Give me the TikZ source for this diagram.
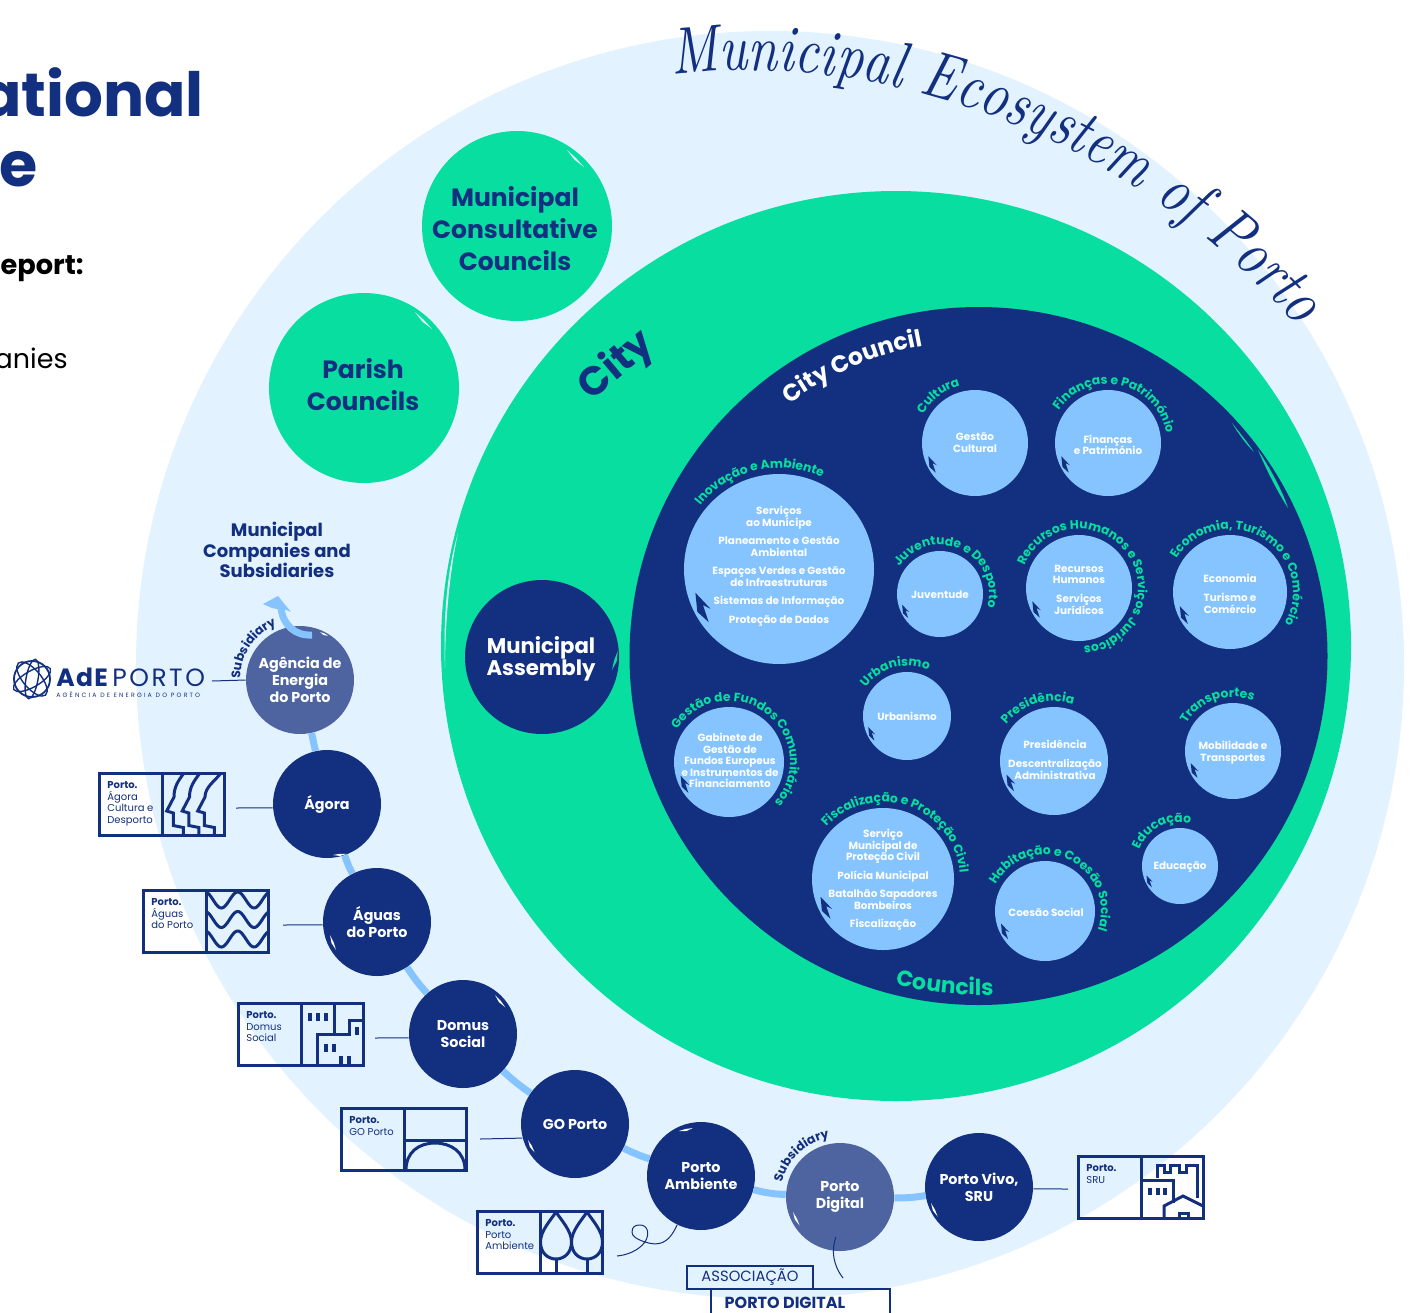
\documentclass[tikz,border=0pt]{standalone}
\usepackage{fontspec}
\setmainfont{Poppins}
\newfontfamily\scrf{lmroman10-italic.otf}[FakeStretch=0.8]
\usetikzlibrary{decorations.text,backgrounds,calc}
\definecolor{navy}{RGB}{18,48,127}
\definecolor{grn}{RGB}{7,222,160}
\definecolor{pale}{RGB}{227,242,255}
\definecolor{sky}{RGB}{133,196,255}
\definecolor{mid}{RGB}{77,100,160}
\pgfdeclarelayer{back}\pgfdeclarelayer{conn}\pgfsetlayers{back,conn,main}
\def\labfont{\color{grn}\bfseries\fontsize{6.15}{6.15}\selectfont}
\def\subfont{\color{navy}\bfseries\fontsize{6.2}{6.2}\selectfont}
\def\citycfont{\color{white}\bfseries\fontsize{11.8}{11.8}\selectfont}
\def\councfont{\color{grn}\bfseries\fontsize{11}{11}\selectfont}
\def\titlefont{\color{navy}\scrf\fontsize{33}{33}\selectfont}
\newcommand{\ArcText}[6][\labfont]{%
  \pgfmathsetmacro\aA{#5-170}\pgfmathsetmacro\aB{#5+170}%
  \path[decorate,decoration={text along path,text align=center,text={|#1|#6}}]
    plot[domain=\aA:\aB,samples=90] ({#2+#4*cos(\x)},{#3+#4*sin(\x)});}
\newcommand{\ArcSpan}[7][\labfont]{%
  \path[decorate,decoration={text along path,text align=center,text={|#1|#7}}]
    plot[domain=#5:#6,samples=60] ({#2+#4*cos(\x)},{#3+#4*sin(\x)});}
\newcommand{\Nick}[6][white]{% colour, x, y, angle, length, width
  \fill[#1,shift={(#2,#3)},rotate=#4] (0,0)--(#5*.5,#6)--(#5,0)--(#5*.5,-#6*.4)--cycle;}
\newcommand{\LC}[7]{% name cx cy r tx ty text
  \node[lcirc,minimum size=#4pt] (#1) at (#2,#3) {};
  \fill[navy] ($(#2,#3)+(-.88*#4,.25*#4)$) -- ($(#2,#3)+(-.72*#4,.42*#4)$) -- ($(#2,#3)+(-.80*#4,.38*#4)$) -- ($(#2,#3)+(-.74*#4,.56*#4)$) -- ($(#2,#3)+(-.86*#4,.45*#4)$) -- cycle;
  \node[ltext] (#1t) at (#5,#6) {#7};}
\newcommand{\CC}[6][navy]{% colour name cx cy text
  \node[ccirc,fill=#1,minimum size=54pt] (#2) at (#3,#4) {#5};}
\newcommand{\LogoBox}[4]{% name x y text
  \node[logobox,anchor=north west] (#1) at (#2,#3) {};
  \draw[logoline] ($(#2,#3)+(63,0)$) -- ($(#2,#3)+(63,62)$);
  \node[logotext] (#1t) at ($(#2,#3)+(8,8.5)$) {{\bfseries Porto.}\\#4};}
\tikzset{
  x=0.5pt,y=-0.5pt,
  lcirc/.style={circle,fill=sky,inner sep=0pt},
  ltext/.style={text=white,font=\bfseries\fontsize{5.2}{5.75}\selectfont,align=center,inner sep=0pt,yshift=-.4pt},
  ccirc/.style={circle,inner sep=0pt,text=white,align=center,font=\bfseries\fontsize{7.15}{8.5}\selectfont},
  gcirc/.style={circle,fill=grn,inner sep=0pt,minimum size=95pt},
  gtext/.style={text=navy,align=center,inner sep=0pt,font=\bfseries\fontsize{12.5}{16}\selectfont},
  conn/.style={sky,line width=3.5pt},
  thinl/.style={navy,line width=0.5pt},
  logobox/.style={draw=navy,line width=1.5pt,minimum width=62.5pt,minimum height=31pt,inner sep=0pt,outer sep=0pt},
  logoline/.style={navy,line width=1.5pt,line join=miter},
  logotext/.style={anchor=north west,text=navy,align=left,inner sep=0pt,font=\fontsize{5}{5.75}\selectfont},
}
\begin{document}
\begin{tikzpicture}
\useasboundingbox (0,0) rectangle (1413,1312);
\clip (0,0) rectangle (1413,1312);
\begin{pgfonlayer}{back}
  \fill[white] (0,0) rectangle (1413,1312);
  \fill[pale] (770,665) circle[radius=634];
  \fill[grn] (896,646) circle[radius=455];
  \fill[navy] (978.5,656) circle[radius=349];
\end{pgfonlayer}
% green slivers and brush marks
\fill[grn] (1232,423) .. controls (1240,433) and (1248,443) .. (1254,452) .. controls (1245,443) and (1238,433) .. (1232,423) -- cycle;
\fill[grn] (1258,450) .. controls (1270,468) and (1282,490) .. (1288,508) .. controls (1277,491) and (1266,469) .. (1258,450) -- cycle;
\fill[pale] (458,533) .. controls (450,570) and (445,620) .. (445,668) .. controls (443,620) and (447,570) .. (458,533) -- cycle;

% left page text
\node[anchor=base east,inner sep=0pt,text=navy,font=\bfseries\fontsize{30.5}{31}\selectfont] (t1) at (204,116) {ational};
\node[anchor=base east,inner sep=0pt,text=navy,font=\bfseries\fontsize{31}{31}\selectfont] (t2) at (38,186) {re};
\node[anchor=base east,inner sep=0pt,text=black,font=\bfseries\fontsize{13.6}{13}\selectfont] (t3) at (84,274) {Report:};
\node[anchor=base east,inner sep=0pt,text=black,font=\fontsize{13.5}{13.5}\selectfont] (t4) at (68,368) {panies};

% title
\path[decorate,decoration={text along path,text align=center,text={|\titlefont|Municipal Ecosystem of Porto}}]
  (683,74) .. controls (880,52) and (1120,130) .. (1290,318);

% outer green circles
\node[gcirc] (parish) at (364,388) {};
\node[gtext] (parisht) at (363,385) {Parish\\Councils};
\node[gcirc] (consult) at (517,226) {};
\node[gtext] (consultt) at (515,229) {Municipal\\Consultative\\Councils};
\Nick[pale]{415}{312}{-45}{24}{1.6}
\Nick[pale]{567}{150}{-45}{24}{1.6}

% city labels
\node[text=navy,rotate=40,font=\bfseries\fontsize{20}{20}\selectfont,inner sep=0pt] (city) at (617,366) {City};
\node[circle,inner sep=0pt,minimum size=77pt,fill=navy] (assembly) at (542,657) {};
\node[text=white,align=center,inner sep=0pt,font=\bfseries\fontsize{10.6}{11}\selectfont] (assemblyt) at (541,658.5) {Municipal\\Assembly};
\Nick[grn]{612}{670}{73}{20}{2}
\ArcSpan[\citycfont]{978.5}{656}{315}{-151}{-76}{City Council}
\ArcSpan[\councfont]{978.5}{656}{339}{126}{65.6}{Councils}

% departments
\LC{cult}{975}{443}{53}{975}{442}{Gestão\\Cultural}
\ArcText{975}{443}{59}{-128}{Cultura}
\LC{fin}{1108}{443}{53}{1108}{444}{Finanças\\e Património}
\ArcText{1108}{443}{59}{-78}{Finanças e Património}
\LC{inov}{779}{569}{95}{779}{565.5}{Serviços\\ao Munícipe\\[3.5pt]Planeamento e Gestão\\Ambiental\\[3.5pt]Espaços Verdes e Gestão\\de Infraestruturas\\[3.5pt]Sistemas de Informação\\[3.5pt]Proteção de Dados}
\ArcText{779}{569}{101}{-103}{Inovação e Ambiente}
\LC{juv}{940}{594}{43}{940}{594}{Juventude}
\ArcText{940}{594}{49}{-65}{Juventude e Desporto}
\LC{rh}{1079}{588}{53}{1079}{589}{Recursos\\Humanos\\[3.75pt]Serviços\\Jurídicos}
\ArcText{1079}{588}{59}{-36}{Recursos Humanos e Serviços Jurídicos}
\LC{eco}{1230}{592}{57}{1230}{593}{Economia\\[3.75pt]Turismo e\\Comércio}
\ArcText{1230}{592}{63}{-59}{Economia, Turismo e Comércio}
\LC{urb}{907}{716}{44}{907}{716}{Urbanismo}
\ArcText{907}{716}{50}{-105}{Urbanismo}
\LC{gab}{729}{762}{55}{730}{760}{Gabinete de\\Gestão de\\Fundos Europeus\\e Instrumentos de\\Financiamento}
\ArcText{729}{762}{61}{-53}{Gestão de Fundos Comunitários}
\LC{pres}{1054}{761}{54}{1055}{759}{Presidência\\[3.75pt]Descentralização\\Administrativa}
\ArcText{1054}{761}{60}{-107}{Presidência}
\LC{mob}{1233}{751}{48}{1233}{752}{Mobilidade e\\Transportes}
\ArcText{1233}{751}{54}{-109}{Transportes}
\LC{edu}{1180}{866}{38}{1180}{866}{Educação}
\ArcText{1180}{866}{44}{-117}{Educação}
\LC{fisc}{883}{879}{71}{883}{879}{Serviço\\Municipal de\\Proteção Civil\\[3.5pt]Polícia Municipal\\[3.5pt]Batalhão Sapadores\\Bombeiros\\[3.5pt]Fiscalização}
\ArcText{883}{879}{77}{-71}{Fiscalização e Proteção Civil}
\LC{coes}{1045}{911}{50}{1046}{912}{Coesão Social}
\ArcText{1045}{911}{56}{-66}{Habitação e Coesão Social}

% companies
\CC[mid]{ade}{300}{680}{Agência de\\Energia\\do Porto}{}
\CC{agora}{327}{804}{Ágora}{}
\CC{aguas}{377}{922}{Águas\\do Porto}{}
\CC{domus}{463}{1034}{Domus\\Social}{}
\CC{gop}{575}{1124}{GO Porto}{}
\CC{ambi}{701}{1176}{Porto\\Ambiente}{}
\CC[mid]{digi}{840}{1197}{Porto\\Digital}{}
\CC{vivo}{979}{1187}{Porto Vivo,\\SRU}{}
\Nick{320}{632}{-25}{9}{1.3}
\Nick{333}{855}{5}{14}{1.6}
\Nick{330}{935}{-68}{16}{1.6}
\Nick{495}{995}{-50}{16}{1.6}
\Nick{528}{1140}{-62}{14}{1.6}
\Nick{679}{1131}{12}{14}{1.6}
\Nick{793}{1212}{-64}{15}{1.6}
\Nick{931}{1203}{-64}{15}{1.6}

\node[text=navy,align=center,inner sep=0pt,font=\bfseries\fontsize{9}{10.3}\selectfont] (mcs) at (277,550) {Municipal\\Companies and\\Subsidiaries};

\begin{pgfonlayer}{conn}
  \draw[conn] (ade) -- (agora);
  \draw[conn] (agora) to[bend right=4] (aguas);
  \draw[conn] (aguas) to[bend right=4] (domus);
  \draw[conn] (domus) to[bend right=4] (gop);
  \draw[conn] (gop) to[bend right=4] (ambi);
  \draw[conn] (ambi) to[bend right=6] (digi);
  \draw[conn] (digi) to[bend right=5] (vivo);
\end{pgfonlayer}

% arrow leaving the agency
\coordinate (arrowEnd) at (281,608);
\coordinate (arrowStart) at (312,635);
\draw[conn] (arrowStart) .. controls (295,636) and (283,625) .. (arrowEnd);
\fill[sky] (278,596) -- (291,612) -- (284,609) -- (277,609) -- (272,608) -- (263,604) -- cycle;
\ArcText[\subfont]{300}{680}{60}{-146}{Subsidiary}
\ArcText[\subfont]{840}{1197}{60}{-133}{Subsidiary}

% logos
\LogoBox{lagora}{99}{773}{Ágora\\Cultura e\\Desporto}
\LogoBox{laguas}{143}{890}{Águas\\do Porto}
\LogoBox{ldomus}{238}{1003}{Domus\\Social}
\LogoBox{lgo}{341}{1108}{GO Porto}
\LogoBox{lambi}{477}{1211}{Porto\\Ambiente}
\LogoBox{lsru}{1078}{1156}{SRU}

% face icon
\begin{scope}[shift={(99,773)}]
  \foreach \d/\t in {0/85,15.5/101,31/122}
    \draw[logoline] (\t,0) .. controls (\t-6,8) and (75+\d,14) .. (75+\d,24) -- (67.7+\d,38) -- (74.4+\d,40) -- (74.4+\d,52.5) -- (84.4+\d,54.5) -- (84.4+\d,62);
\end{scope}
% waves icon
\begin{scope}[shift={(143,890)}]
  \clip (63,0) rectangle (125,62);
  \foreach \rw in {10,29.5,49}
    \draw[logoline] plot[domain=60:128,samples=60,smooth] (\x,{\rw-8*cos((\x-62)*11)});
\end{scope}
% building icon
\begin{scope}[shift={(238,1003)}]
  \draw[logoline] (96,0) -- (96,31);
  \draw[logoline] (79,62) -- (79,31) -- (111,31) -- (111,17) -- (125,17);
  \foreach \wx/\wy in {70/9.5,78/9.5,86/9.5,117/24,86/41,94/41,101/52.5,109/52.5}
    \fill[navy] (\wx,\wy) rectangle ++(4,8);
\end{scope}
% bridge icon
\begin{scope}[shift={(341,1108)}]
  \draw[logoline] (63,32) -- (125,32);
  \draw[logoline] (65,62) .. controls (65,44) and (78,35) .. (94,35) .. controls (110,35) and (124,44) .. (124,62);
\end{scope}
% trees icon
\begin{scope}[shift={(477,1211)}]
  \foreach \c in {79,110}{
    \draw[logoline] (\c,1) .. controls (\c-6,10) and (\c-15.5,20) .. (\c-15.5,31) .. controls (\c-15.5,42) and (\c-8,48) .. (\c,48) .. controls (\c+8,48) and (\c+15.5,42) .. (\c+15.5,31) .. controls (\c+15.5,20) and (\c+6,10) .. (\c,1);
    \draw[logoline] (\c,48) -- (\c,62);}
\end{scope}
% castle icon
\begin{scope}[shift={(1078,1156)}]
  \draw[logoline] (79,22) -- (79,9) -- (86,9) -- (86,16) -- (92,16) -- (92,9) -- (101,9) -- (101,16) -- (108,16) -- (108,9) -- (119,9) -- (119,42);
  \draw[logoline] (64,24) -- (95,24) -- (95,47);
  \foreach \wx in {70,78,85} \fill[navy] (\wx,32) rectangle ++(3.5,7);
  \draw[logoline] (86,62) -- (86,50) -- (105,40) -- (125,50);
  \draw[logoline] (101,62) -- (101,57) -- (110,57) -- (110,62);
\end{scope}

% thin leaders
\coordinate (eAde) at (212,681);
\coordinate (eAgora) at (236,808);
\coordinate (eAguas) at (283,925);
\coordinate (eDomus) at (375,1038);
\coordinate (eGo) at (480,1139);
\coordinate (eSru) at (1068,1189);
\coordinate (eAmbi) at (617,1256);
\coordinate (eDigiA) at (836,1237);
\coordinate (eDigiB) at (843,1278);
\begin{pgfonlayer}{conn}
  \draw[thinl] (eAde) -- (ade.west);
  \draw[thinl] (eAgora) -- (agora.184);
  \draw[thinl] (eAguas) -- (aguas.183);
  \draw[thinl] (eDomus) -- (domus.184);
  \draw[thinl] (eGo) -- (gop.195);
  \draw[thinl] (eSru) -- (vivo.-2);
\end{pgfonlayer}
\draw[thinl] (ambi.244) .. controls (668,1245) and (658,1246) .. (645,1242) .. controls (636,1239) and (632,1236) .. (632,1232) .. controls (632,1226) and (636,1225) .. (640,1225) .. controls (648,1225) and (650,1234) .. (645,1242) .. controls (638,1251) and (627,1255) .. (eAmbi);
\draw[thinl] (eDigiA) .. controls (831,1250) and (833,1265) .. (eDigiB);

% AdE logo
\coordinate (gl) at (32,679);
\begin{scope}[shift={(gl)}]
  \draw[navy,line width=0.9pt] (0,0) circle[radius=18];
  \draw[navy,line width=0.7pt,rotate=30] (0,0) ellipse[x radius=21,y radius=8];
  \draw[navy,line width=0.7pt,rotate=-50] (0,0) ellipse[x radius=21,y radius=9];
  \draw[navy,line width=0.7pt,rotate=80] (0,0) ellipse[x radius=20,y radius=6];
\end{scope}
\node[anchor=base west,inner sep=0pt,text=navy,font=\bfseries\fontsize{12.5}{14}\selectfont\addfontfeature{LetterSpace=5}] (adelogo) at (56,686) {AdE};
\node[anchor=base west,inner sep=0pt,text=navy,font=\fontsize{12.5}{14}\selectfont\addfontfeature{LetterSpace=10}] (adelogo2) at (112,686) {PORTO};
\node[anchor=base west,inner sep=0pt,text=navy,font=\fontsize{3.1}{3.1}\selectfont\addfontfeature{LetterSpace=35}] (adelogo3) at (56,697) {AGÊNCIA DE ENERGIA DO PORTO};

% Associacao Porto Digital
\node[draw=navy,line width=1.2pt,minimum width=63pt,minimum height=11.5pt,inner sep=0pt,outer sep=0pt,text=navy,font=\fontsize{7.4}{7.4}\selectfont,anchor=north west] (assoc) at (687,1266) {ASSOCIAÇÃO};
\coordinate (pdA) at (711,1320);
\coordinate (pdB) at (890,1320);
\draw[navy,line width=1.2pt] (pdA) -- (711,1289) -- (890,1289) -- (pdB);
\node[inner sep=0pt,text=navy,font=\bfseries\fontsize{8}{8}\selectfont] (pdigital) at (785,1303) {PORTO DIGITAL};
\end{tikzpicture}
\end{document}
